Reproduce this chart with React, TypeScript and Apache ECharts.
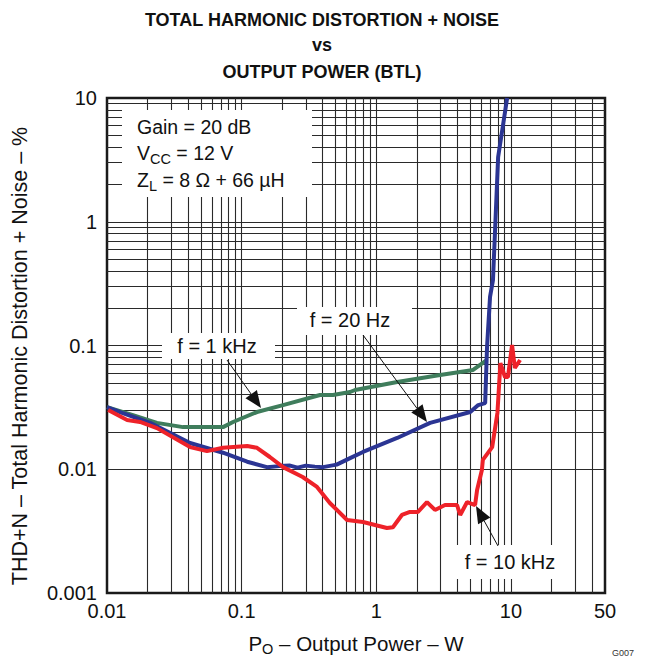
import React, { useEffect, useRef } from 'react';
import * as echarts from 'echarts';

// ---- data ----
const f20Hz_x = [0.01, 0.0131, 0.0209, 0.0414, 0.0727, 0.110, 0.154, 0.19, 0.229, 0.26, 0.30, 0.35, 0.402, 0.508, 0.639, 0.797, 1.43, 2.51, 4.99, 5.72, 6.44, 6.65, 7.00, 7.36, 7.63, 8.04, 9.38];
const f20Hz_y = [0.0318, 0.0284, 0.0237, 0.0163, 0.0136, 0.0115, 0.0104, 0.0106, 0.0107, 0.0103, 0.0107, 0.0105, 0.0104, 0.0109, 0.0123, 0.0138, 0.0179, 0.0237, 0.0290, 0.0330, 0.0342, 0.0973, 0.247, 0.338, 0.858, 3.34, 10];

const f1k_x = [0.01, 0.0156, 0.0235, 0.0367, 0.0727, 0.0863, 0.130, 0.203, 0.382, 0.477, 0.639, 0.696, 1.43, 2.98, 5.24, 6.65];
const f1k_y = [0.0318, 0.0274, 0.0237, 0.0219, 0.0219, 0.0241, 0.0290, 0.0330, 0.0398, 0.0398, 0.0421, 0.0437, 0.0507, 0.0578, 0.0634, 0.0764];

const f10k_x = [0.0102, 0.0141, 0.0176, 0.0235, 0.0414, 0.0553, 0.0727, 0.110, 0.130, 0.162, 0.203, 0.284, 0.363, 0.452, 0.607, 0.798, 1.20, 1.33, 1.55, 1.78, 2.04, 2.38, 2.73, 3.24, 3.98, 4.20, 4.73, 5.42, 5.61, 6.09, 6.19, 7.26, 7.94, 8.36, 9.04, 9.51, 10.2, 10.7, 11.7];
const f10k_y = [0.0301, 0.0250, 0.0241, 0.0215, 0.0151, 0.0140, 0.0149, 0.0154, 0.0149, 0.01256, 0.0104, 0.00866, 0.0072, 0.00534, 0.00389, 0.00375, 0.00335, 0.0034, 0.00427, 0.00452, 0.00452, 0.00543, 0.00469, 0.00514, 0.00514, 0.00427, 0.00543, 0.00514, 0.00679, 0.00986, 0.0119, 0.0151, 0.0285, 0.0722, 0.0556, 0.0556, 0.101, 0.0658, 0.0764];

const xMin = 0.01, xMax = 50;
const yMin = 0.001, yMax = 10;
const xDecades = [0.01, 0.1, 1, 10];
const yDecades = [0.001, 0.01, 0.1, 1];
const mantissas = [1, 2, 3, 4, 5, 6, 7, 8, 9];

const titleLines = ['TOTAL HARMONIC DISTORTION + NOISE', 'vs', 'OUTPUT POWER (BTL)'];
const conditions = ['Gain = 20 dB', 'V{sub|CC} = 12 V', 'Z{sub|L} = 8 Ω + 66 µH'];

const FONT = "'Liberation Sans', Arial, Helvetica, sans-serif";

function zip(xs: number[], ys: number[]) {
  return xs.map((x, i) => [x, ys[i]]);
}

function arrow(sx: number, sy: number, tx: number, ty: number) {
  const dx = tx - sx, dy = ty - sy;
  const L = Math.hypot(dx, dy);
  const ux = dx / L, uy = dy / L;
  const hl = 17, hw = 7;
  const bx = tx - ux * hl, by = ty - uy * hl;
  return [
    { type: 'line', z: 110, shape: { x1: sx, y1: sy, x2: bx, y2: by }, style: { stroke: '#111', lineWidth: 1 } },
    { type: 'polygon', z: 110, shape: { points: [[tx, ty], [bx - uy * hw, by + ux * hw], [bx + uy * hw, by - ux * hw]] }, style: { fill: '#111' } },
  ];
}

function whiteBox(x: number, y: number, w: number, h: number) {
  return { type: 'rect', z: 100, shape: { x, y, width: w, height: h }, style: { fill: '#fff' } };
}

function label(text: string, x: number, y: number, size = 19.5, extra: any = {}) {
  return {
    type: 'text', z: 110, x, y,
    style: {
      text, fill: '#111', fontSize: size, fontFamily: FONT, align: 'left', verticalAlign: 'middle',
      rich: { sub: { fontSize: 14.5, fontFamily: FONT, verticalAlign: 'bottom', lineHeight: 27, fill: '#111' } },
      ...extra,
    },
  };
}

export default function App() {
  const ref = useRef<HTMLDivElement>(null);
  useEffect(() => {
    const chart = echarts.init(ref.current!, null, { renderer: 'svg' });
    const gridX: number[] = [];
    xDecades.forEach((d) => mantissas.forEach((m) => { const v = +(d * m).toPrecision(3); if (v > xMin && v < xMax) gridX.push(v); }));
    const gridY: number[] = [];
    yDecades.forEach((d) => mantissas.forEach((m) => { const v = +(d * m).toPrecision(3); if (v > yMin && v < yMax) gridY.push(v); }));

    const graphics: any[] = [];
    titleLines.forEach((t, i) => {
      graphics.push({ type: 'text', z: 110, x: 322, y: [20, 45, 72][i], style: { text: t, fill: '#111', fontSize: 18, fontWeight: 'bold', fontFamily: FONT, align: 'center', verticalAlign: 'middle' } });
    });
    // conditions box
    graphics.push(whiteBox(122, 110, 190, 87));
    conditions.forEach((t, i) => graphics.push(label(t, 137, [127, 153, 180][i])));
    // f = 1 kHz
    graphics.push(whiteBox(162, 333, 113, 26));
    graphics.push(label('f = 1 kHz', 217, 346, 20, { align: 'center' }));
    graphics.push(...arrow(227, 360, 261, 408));
    // f = 20 Hz
    graphics.push(whiteBox(297, 307, 115, 28));
    graphics.push(label('f = 20 Hz', 350, 320, 20, { align: 'center' }));
    graphics.push(...arrow(363, 335, 427, 422));
    // f = 10 kHz
    graphics.push(whiteBox(450, 545, 123, 34));
    graphics.push(label('f = 10 kHz', 510, 562, 20, { align: 'center' }));
    graphics.push(...arrow(498, 546, 476, 506));
    // axis names
    graphics.push({
      type: 'text', z: 110, x: 20, y: 356, rotation: Math.PI / 2,
      style: { text: 'THD+N – Total Harmonic Distortion + Noise – %', fill: '#111', fontSize: 21.5, fontFamily: FONT, align: 'center', verticalAlign: 'middle' },
    });
    graphics.push(label('P{sub|O} – Output Power – W', 356, 643, 20.5, { align: 'center' }));
    graphics.push({ type: 'text', z: 110, x: 612, y: 648, style: { text: 'G007', fill: '#333', fontSize: 9, fontFamily: FONT, align: 'left', verticalAlign: 'top' } });

    const option: any = {
      animation: false,
      backgroundColor: '#fff',
      grid: { left: 107, top: 98, right: 40, bottom: 68, show: true, borderColor: '#1a1a1a', borderWidth: 2.5, backgroundColor: '#fff' },
      xAxis: {
        type: 'log', logBase: 10, min: xMin, max: xMax,
        axisLine: { show: false }, axisTick: { show: false }, splitLine: { show: false },
        axisLabel: { color: '#111', fontSize: 20, fontFamily: FONT, margin: 8, showMinLabel: true, showMaxLabel: true },
      },
      yAxis: {
        type: 'log', logBase: 10, min: yMin, max: yMax,
        axisLine: { show: false }, axisTick: { show: false }, splitLine: { show: false },
        axisLabel: { color: '#111', fontSize: 20, fontFamily: FONT, margin: 10, showMinLabel: true, showMaxLabel: true },
      },
      series: [
        {
          type: 'line', name: 'grid', data: [[xMin, yMin]], showSymbol: false, lineStyle: { width: 0 }, z: 1, silent: true,
          markLine: {
            silent: true, symbol: ['none', 'none'], label: { show: false }, animation: false,
            lineStyle: { color: '#2a2a2a', width: 1.1, type: 'solid' },
            emphasis: { disabled: true },
            data: [...gridX.map((v) => ({ xAxis: v })), ...gridY.map((v) => ({ yAxis: v }))],
          },
        },
        { type: 'line', name: 'f = 1 kHz', data: zip(f1k_x, f1k_y), showSymbol: false, lineStyle: { color: '#3f7d5c', width: 4 }, z: 5 },
        { type: 'line', name: 'f = 20 Hz', data: zip(f20Hz_x, f20Hz_y), showSymbol: false, lineStyle: { color: '#2b3593', width: 4 }, z: 6 },
        { type: 'line', name: 'f = 10 kHz', data: zip(f10k_x, f10k_y), showSymbol: false, lineStyle: { color: '#ee2229', width: 4 }, z: 7 },
      ],
      graphic: graphics,
    };
    chart.setOption(option);
    return () => chart.dispose();
  }, []);
  return <div ref={ref} style={{ position: 'absolute', left: 0, top: 0, width: 645, height: 661 }} />;
}
